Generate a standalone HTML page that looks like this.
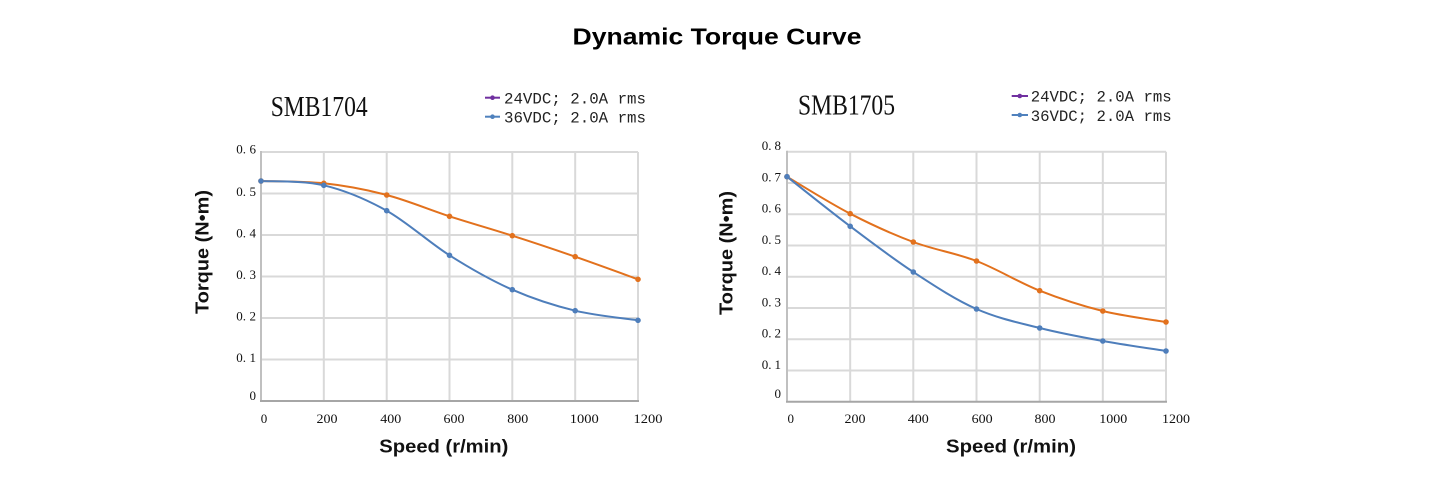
<!DOCTYPE html>
<html>
<head>
<meta charset="utf-8">
<style>
html,body{margin:0;padding:0;background:#fff;}
svg{display:block;}
.yl{font-family:"Liberation Serif",serif;font-size:13px;fill:#111;}
.xl{font-family:"Liberation Serif",serif;font-size:13px;fill:#111;}
.ttl{font-family:"Liberation Serif",serif;font-size:28px;fill:#111;}
.leg{font-family:"Liberation Mono",monospace;font-size:16px;fill:#222;}
.axt{font-family:"Liberation Sans",sans-serif;font-size:18px;font-weight:bold;fill:#111;}
.main{font-family:"Liberation Sans",sans-serif;font-size:23px;font-weight:bold;fill:#000;}
</style>
</head>
<body>
<svg width="1435" height="480" viewBox="0 0 1435 480" xmlns="http://www.w3.org/2000/svg">
<rect width="1435" height="480" fill="#fff"/>
<text class="main" x="717" y="44.5" text-anchor="middle" textLength="289" lengthAdjust="spacingAndGlyphs">Dynamic Torque Curve</text>

<!-- ===== Chart 1 ===== -->
<g stroke="#d9d9d9" stroke-width="2" fill="none">
  <line x1="261" y1="152" x2="638" y2="152"/>
  <line x1="261" y1="193.5" x2="638" y2="193.5"/>
  <line x1="261" y1="235" x2="638" y2="235"/>
  <line x1="261" y1="276.5" x2="638" y2="276.5"/>
  <line x1="261" y1="318" x2="638" y2="318"/>
  <line x1="261" y1="359.5" x2="638" y2="359.5"/>
  <line x1="323.8" y1="152" x2="323.8" y2="401"/>
  <line x1="386.7" y1="152" x2="386.7" y2="401"/>
  <line x1="449.5" y1="152" x2="449.5" y2="401"/>
  <line x1="512.3" y1="152" x2="512.3" y2="401"/>
  <line x1="575.2" y1="152" x2="575.2" y2="401"/>
  <line x1="638" y1="152" x2="638" y2="401"/>
</g>
<line x1="261" y1="151" x2="261" y2="401" stroke="#c0c0c0" stroke-width="2"/>
<line x1="260" y1="401" x2="639" y2="401" stroke="#a6a6a6" stroke-width="2"/>

<g class="yl" text-anchor="end">
  <text x="256" y="153.5">0.<tspan dx="3.5">6</tspan></text>
  <text x="256" y="196">0.<tspan dx="3.5">5</tspan></text>
  <text x="256" y="237.5">0.<tspan dx="3.5">4</tspan></text>
  <text x="256" y="279">0.<tspan dx="3.5">3</tspan></text>
  <text x="256" y="320.5">0.<tspan dx="3.5">2</tspan></text>
  <text x="256" y="362">0.<tspan dx="3.5">1</tspan></text>
  <text x="256" y="400">0</text>
</g>
<g class="xl" text-anchor="middle">
  <text x="264" y="423">0</text>
  <text x="327" y="423" textLength="21" lengthAdjust="spacingAndGlyphs">200</text>
  <text x="390.8" y="423" textLength="21" lengthAdjust="spacingAndGlyphs">400</text>
  <text x="454" y="423" textLength="21" lengthAdjust="spacingAndGlyphs">600</text>
  <text x="517.8" y="423" textLength="21" lengthAdjust="spacingAndGlyphs">800</text>
  <text x="584.3" y="423" textLength="29" lengthAdjust="spacingAndGlyphs">1000</text>
  <text x="648" y="423" textLength="29" lengthAdjust="spacingAndGlyphs">1200</text>
</g>

<path fill="none" stroke="#e2711d" stroke-width="2" d="M261,181 C271.5,181.4 302.9,181 323.8,183.3 C344.8,185.6 365.7,189.5 386.7,195 C407.6,200.5 428.6,209.5 449.5,216.3 C470.4,223.1 491.4,229 512.3,235.7 C533.3,242.4 554.2,249.4 575.2,256.7 C596.1,264 627.5,275.5 638,279.3"/>
<path fill="none" stroke="#4e7ebb" stroke-width="2" d="M261,181 C271.5,181.7 302.9,180.4 323.8,185.3 C344.8,190.3 365.7,199 386.7,210.7 C407.6,222.4 428.6,242.1 449.5,255.3 C470.4,268.5 491.4,280.5 512.3,289.7 C533.3,298.9 554.2,305.6 575.2,310.7 C596.1,315.8 627.5,318.7 638,320.3"/>
<g fill="#e2711d">
  <circle cx="261" cy="181" r="2.8"/><circle cx="323.8" cy="183.3" r="2.8"/><circle cx="386.7" cy="195" r="2.8"/><circle cx="449.5" cy="216.3" r="2.8"/><circle cx="512.3" cy="235.7" r="2.8"/><circle cx="575.2" cy="256.7" r="2.8"/><circle cx="638" cy="279.3" r="2.8"/>
</g>
<g fill="#4e7ebb">
  <circle cx="261" cy="181" r="2.8"/><circle cx="323.8" cy="185.3" r="2.8"/><circle cx="386.7" cy="210.7" r="2.8"/><circle cx="449.5" cy="255.3" r="2.8"/><circle cx="512.3" cy="289.7" r="2.8"/><circle cx="575.2" cy="310.7" r="2.8"/><circle cx="638" cy="320.3" r="2.8"/>
</g>

<text class="ttl" x="270.7" y="116" textLength="97" lengthAdjust="spacingAndGlyphs">SMB1704</text>
<line x1="485" y1="97.7" x2="500" y2="97.7" stroke="#7030a0" stroke-width="2"/>
<circle cx="492.5" cy="97.7" r="2.3" fill="#7030a0"/>
<line x1="485" y1="116.7" x2="500" y2="116.7" stroke="#4f81bd" stroke-width="2"/>
<circle cx="492.5" cy="116.7" r="2.3" fill="#4f81bd"/>
<text class="leg" x="504" y="103.3" textLength="142" lengthAdjust="spacingAndGlyphs">24VDC; 2.0A rms</text>
<text class="leg" x="504" y="122.3" textLength="142" lengthAdjust="spacingAndGlyphs">36VDC; 2.0A rms</text>

<text class="axt" transform="translate(208.5,252) rotate(-90)" text-anchor="middle" textLength="124" lengthAdjust="spacingAndGlyphs">Torque (N•m)</text>
<text class="axt" x="443.8" y="452.5" text-anchor="middle" textLength="129" lengthAdjust="spacingAndGlyphs">Speed (r/min)</text>

<!-- ===== Chart 2 ===== -->
<g stroke="#d9d9d9" stroke-width="2" fill="none">
  <line x1="787" y1="151.7" x2="1166" y2="151.7"/>
  <line x1="787" y1="183" x2="1166" y2="183"/>
  <line x1="787" y1="214.2" x2="1166" y2="214.2"/>
  <line x1="787" y1="245.5" x2="1166" y2="245.5"/>
  <line x1="787" y1="276.7" x2="1166" y2="276.7"/>
  <line x1="787" y1="308" x2="1166" y2="308"/>
  <line x1="787" y1="339.2" x2="1166" y2="339.2"/>
  <line x1="787" y1="370.5" x2="1166" y2="370.5"/>
  <line x1="850.2" y1="151.7" x2="850.2" y2="401.7"/>
  <line x1="913.3" y1="151.7" x2="913.3" y2="401.7"/>
  <line x1="976.5" y1="151.7" x2="976.5" y2="401.7"/>
  <line x1="1039.7" y1="151.7" x2="1039.7" y2="401.7"/>
  <line x1="1102.8" y1="151.7" x2="1102.8" y2="401.7"/>
  <line x1="1166" y1="151.7" x2="1166" y2="401.7"/>
</g>
<line x1="787" y1="150.7" x2="787" y2="401.7" stroke="#c0c0c0" stroke-width="2"/>
<line x1="786" y1="401.7" x2="1167" y2="401.7" stroke="#a6a6a6" stroke-width="2"/>

<g class="yl" text-anchor="end">
  <text x="781" y="150">0.<tspan dx="3">8</tspan></text>
  <text x="781" y="181.5">0.<tspan dx="3">7</tspan></text>
  <text x="781" y="212.7">0.<tspan dx="3">6</tspan></text>
  <text x="781" y="244">0.<tspan dx="3">5</tspan></text>
  <text x="781" y="275.2">0.<tspan dx="3">4</tspan></text>
  <text x="781" y="306.5">0.<tspan dx="3">3</tspan></text>
  <text x="781" y="337.7">0.<tspan dx="3">2</tspan></text>
  <text x="781" y="369">0.<tspan dx="3">1</tspan></text>
  <text x="781" y="398">0</text>
</g>
<g class="xl" text-anchor="middle">
  <text x="790.7" y="423">0</text>
  <text x="855" y="423" textLength="21" lengthAdjust="spacingAndGlyphs">200</text>
  <text x="918.3" y="423" textLength="21" lengthAdjust="spacingAndGlyphs">400</text>
  <text x="982.2" y="423" textLength="21" lengthAdjust="spacingAndGlyphs">600</text>
  <text x="1045" y="423" textLength="21" lengthAdjust="spacingAndGlyphs">800</text>
  <text x="1113.3" y="423" textLength="28" lengthAdjust="spacingAndGlyphs">1000</text>
  <text x="1176" y="423" textLength="28" lengthAdjust="spacingAndGlyphs">1200</text>
</g>

<path fill="none" stroke="#e2711d" stroke-width="2" d="M787,176.7 C797.5,182.9 829.1,202.8 850.2,213.7 C871.2,224.6 892.3,234.1 913.3,242 C934.4,249.9 955.4,252.9 976.5,261 C997.6,269.1 1018.6,282.4 1039.7,290.7 C1060.7,299 1081.8,305.8 1102.8,311 C1123.9,316.2 1155.5,320.2 1166,322"/>
<path fill="none" stroke="#4e7ebb" stroke-width="2" d="M787,176.7 C797.5,185 829.1,210.4 850.2,226.3 C871.2,242.2 892.3,258.2 913.3,272 C934.4,285.8 955.4,299.7 976.5,309 C997.6,318.3 1018.6,322.7 1039.7,328 C1060.7,333.3 1081.8,337.2 1102.8,341 C1123.9,344.8 1155.5,349.3 1166,351"/>
<g fill="#e2711d">
  <circle cx="787" cy="176.7" r="2.8"/><circle cx="850.2" cy="213.7" r="2.8"/><circle cx="913.3" cy="242" r="2.8"/><circle cx="976.5" cy="261" r="2.8"/><circle cx="1039.7" cy="290.7" r="2.8"/><circle cx="1102.8" cy="311" r="2.8"/><circle cx="1166" cy="322" r="2.8"/>
</g>
<g fill="#4e7ebb">
  <circle cx="787" cy="176.7" r="2.8"/><circle cx="850.2" cy="226.3" r="2.8"/><circle cx="913.3" cy="272" r="2.8"/><circle cx="976.5" cy="309" r="2.8"/><circle cx="1039.7" cy="328" r="2.8"/><circle cx="1102.8" cy="341" r="2.8"/><circle cx="1166" cy="351" r="2.8"/>
</g>

<text class="ttl" x="798" y="114.5" textLength="97" lengthAdjust="spacingAndGlyphs">SMB1705</text>
<line x1="1011.7" y1="96" x2="1028" y2="96" stroke="#7030a0" stroke-width="2"/>
<circle cx="1019.8" cy="96" r="2.3" fill="#7030a0"/>
<line x1="1011.7" y1="115" x2="1028" y2="115" stroke="#4f81bd" stroke-width="2"/>
<circle cx="1019.8" cy="115" r="2.3" fill="#4f81bd"/>
<text class="leg" x="1030.7" y="101.7" textLength="141" lengthAdjust="spacingAndGlyphs">24VDC; 2.0A rms</text>
<text class="leg" x="1030.7" y="120.8" textLength="141" lengthAdjust="spacingAndGlyphs">36VDC; 2.0A rms</text>

<text class="axt" transform="translate(732.5,253) rotate(-90)" text-anchor="middle" textLength="124" lengthAdjust="spacingAndGlyphs">Torque (N•m)</text>
<text class="axt" x="1011" y="452.5" text-anchor="middle" textLength="130" lengthAdjust="spacingAndGlyphs">Speed (r/min)</text>
</svg>
</body>
</html>
